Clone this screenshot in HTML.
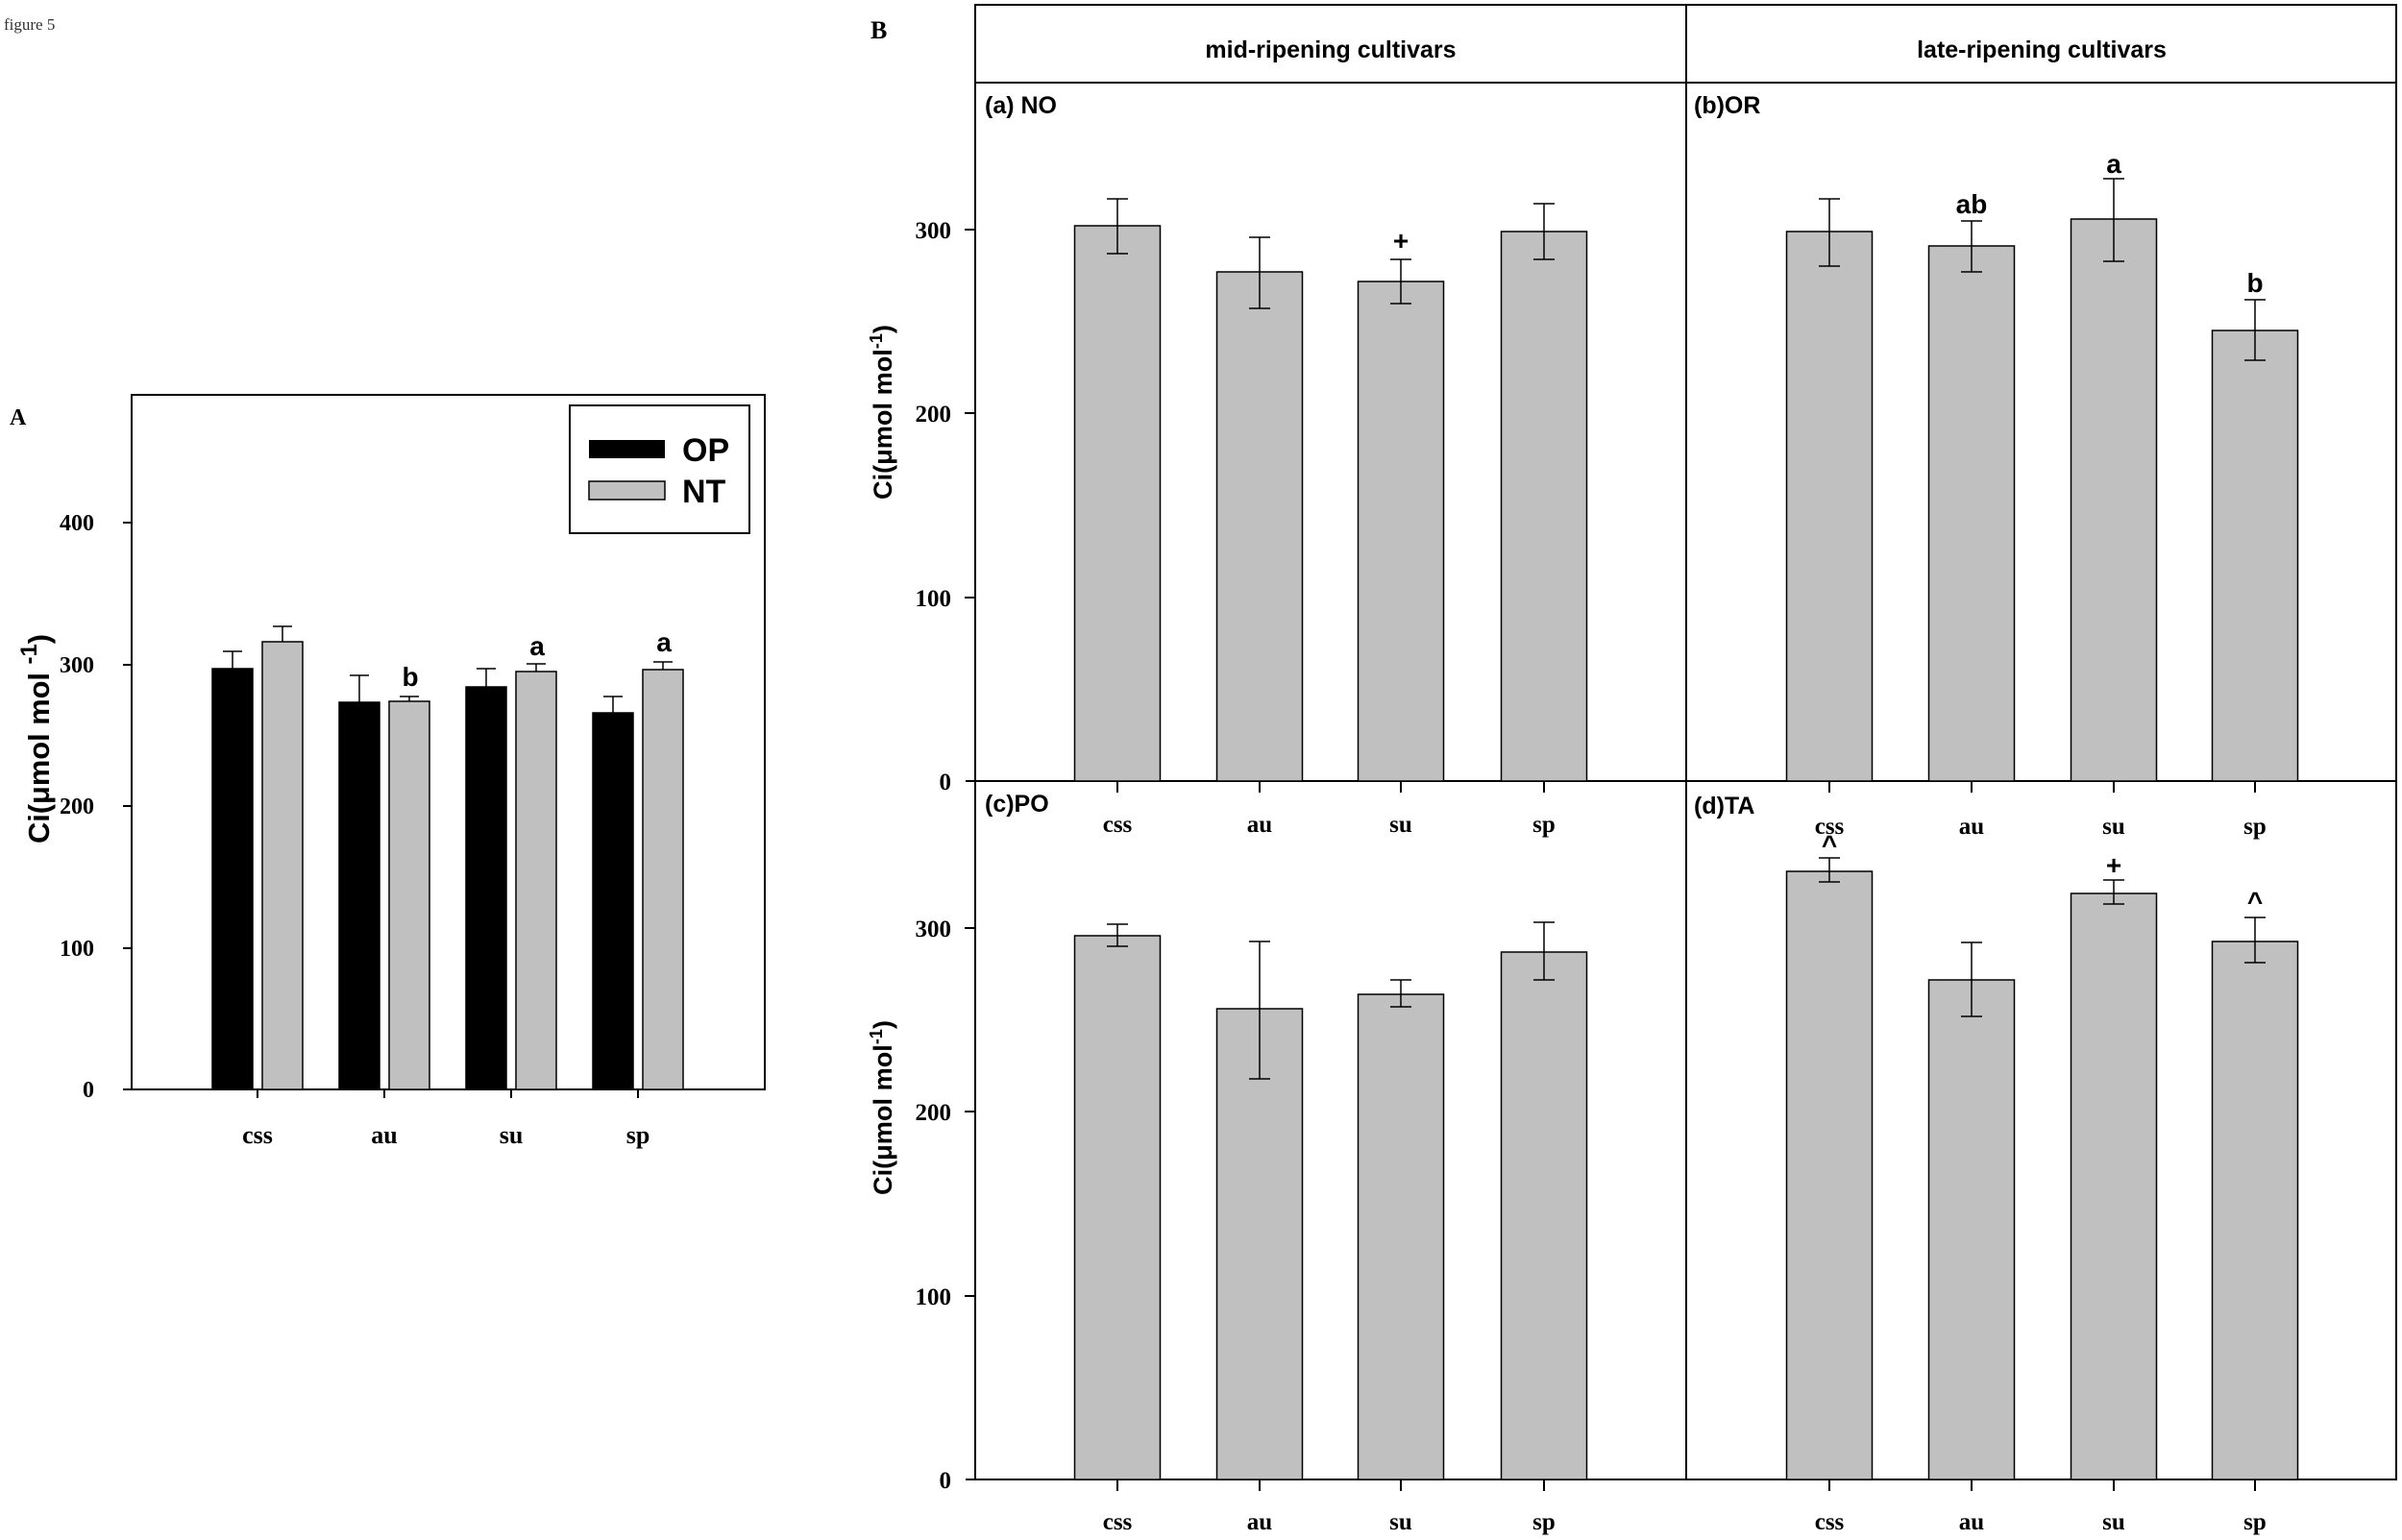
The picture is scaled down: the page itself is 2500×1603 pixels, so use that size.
<!DOCTYPE html>
<html><head><meta charset="utf-8"><style>html,body{margin:0;padding:0;background:#fff}svg{display:block}</style></head>
<body>
<svg width="2500" height="1603" viewBox="0 0 2500 1603" xmlns="http://www.w3.org/2000/svg">
<text x="4" y="31" font-family="Liberation Serif, serif" font-size="17" fill="#333">figure 5</text>

<!-- Panel A -->
<text x="10" y="442" font-family="Liberation Serif, serif" font-weight="bold" font-size="24">A</text>
<g stroke="#000" stroke-width="2" fill="none">
<rect x="137" y="411" width="659" height="723"/>
<line x1="128" y1="1134" x2="796" y2="1134"/>
<line x1="128" y1="544" x2="137" y2="544"/><line x1="128" y1="692" x2="137" y2="692"/>
<line x1="128" y1="839" x2="137" y2="839"/><line x1="128" y1="987" x2="137" y2="987"/>
<line x1="268" y1="1134" x2="268" y2="1143"/><line x1="400" y1="1134" x2="400" y2="1143"/>
<line x1="532" y1="1134" x2="532" y2="1143"/><line x1="664" y1="1134" x2="664" y2="1143"/>
</g>
<g font-family="Liberation Serif, serif" font-weight="bold" font-size="24" text-anchor="end">
<text x="98" y="552">400</text><text x="98" y="700">300</text><text x="98" y="847">200</text><text x="98" y="995">100</text><text x="98" y="1142">0</text>
</g>
<g font-family="Liberation Serif, serif" font-weight="bold" font-size="26" text-anchor="middle">
<text x="268" y="1190">css</text><text x="400" y="1190">au</text><text x="532" y="1190">su</text><text x="664" y="1190">sp</text>
</g>
<text transform="translate(51,878) rotate(-90)" font-family="Liberation Sans, sans-serif" font-weight="bold" font-size="31" textLength="218" lengthAdjust="spacingAndGlyphs">Ci(μmol mol <tspan dy="-13" font-size="24">-1</tspan><tspan dy="13">)</tspan></text>
<g stroke="#000" stroke-width="1.5">
<rect x="221" y="696" width="42" height="438" fill="#000"/>
<rect x="273" y="668" width="42" height="466" fill="#c0c0c0"/>
<rect x="353" y="731" width="42" height="403" fill="#000"/>
<rect x="405" y="730" width="42" height="404" fill="#c0c0c0"/>
<rect x="485" y="715" width="42" height="419" fill="#000"/>
<rect x="537" y="699" width="42" height="435" fill="#c0c0c0"/>
<rect x="617" y="742" width="42" height="392" fill="#000"/>
<rect x="669" y="697" width="42" height="437" fill="#c0c0c0"/>
<path d="M242 696V678M232 678H252 M294 668V652M284 652H304 M374 731V703M364 703H384 M426 730V725M416 725H436 M506 715V696M496 696H516 M558 699V691M548 691H568 M638 742V725M628 725H648 M690 697V689M680 689H700" fill="none"/>
</g>
<g font-family="Liberation Sans, sans-serif" font-weight="bold" font-size="28" text-anchor="middle">
<text x="427" y="714">b</text><text x="559" y="682">a</text><text x="691" y="678">a</text>
</g>
<rect x="593" y="422" width="187" height="133" fill="#fff" stroke="#000" stroke-width="2"/>
<rect x="613" y="458" width="79" height="19" fill="#000"/>
<rect x="613" y="501" width="79" height="19" fill="#c0c0c0" stroke="#000" stroke-width="1.5"/>
<g font-family="Liberation Sans, sans-serif" font-weight="bold" font-size="34">
<text x="710" y="480">OP</text><text x="710" y="523">NT</text>
</g>

<!-- Panel B -->
<text x="906" y="40" font-family="Liberation Serif, serif" font-weight="bold" font-size="26">B</text>
<g stroke="#000" stroke-width="2" fill="none">
<rect x="1015" y="5" width="1479" height="1535"/>
<line x1="1015" y1="86" x2="2494" y2="86"/>
<line x1="1755" y1="5" x2="1755" y2="1540"/>
<line x1="1005" y1="813" x2="2494" y2="813"/>
<line x1="1005" y1="1540" x2="2494" y2="1540"/>
<line x1="1004" y1="239" x2="1015" y2="239"/><line x1="1004" y1="430" x2="1015" y2="430"/><line x1="1004" y1="622" x2="1015" y2="622"/>
<line x1="1004" y1="966" x2="1015" y2="966"/><line x1="1004" y1="1157" x2="1015" y2="1157"/><line x1="1004" y1="1349" x2="1015" y2="1349"/>
<path d="M1163 813v12M1311 813v12M1458 813v12M1607 813v12M1904 813v12M2052 813v12M2200 813v12M2347 813v12"/>
<path d="M1163 1540v12M1311 1540v12M1458 1540v12M1607 1540v12M1904 1540v12M2052 1540v12M2200 1540v12M2347 1540v12"/>
</g>
<g font-family="Liberation Sans, sans-serif" font-weight="bold" font-size="25" text-anchor="middle">
<text x="1385" y="60">mid-ripening cultivars</text><text x="2125" y="60">late-ripening cultivars</text>
</g>
<g font-family="Liberation Sans, sans-serif" font-weight="bold" font-size="25">
<text x="1025" y="118">(a) NO</text><text x="1763" y="118">(b)OR</text>
<text x="1025" y="845">(c)PO</text><text x="1763" y="847">(d)TA</text>
</g>
<g font-family="Liberation Serif, serif" font-weight="bold" font-size="25" text-anchor="end">
<text x="990" y="248">300</text><text x="990" y="439">200</text><text x="990" y="631">100</text><text x="990" y="822">0</text>
<text x="990" y="975">300</text><text x="990" y="1166">200</text><text x="990" y="1358">100</text><text x="990" y="1549">0</text>
</g>
<g font-family="Liberation Serif, serif" font-weight="bold" font-size="25" text-anchor="middle">
<text x="1163" y="866">css</text><text x="1311" y="866">au</text><text x="1458" y="866">su</text><text x="1607" y="866">sp</text>
<text x="1904" y="868">css</text><text x="2052" y="868">au</text><text x="2200" y="868">su</text><text x="2347" y="868">sp</text>
<text x="1163" y="1592">css</text><text x="1311" y="1592">au</text><text x="1458" y="1592">su</text><text x="1607" y="1592">sp</text>
<text x="1904" y="1592">css</text><text x="2052" y="1592">au</text><text x="2200" y="1592">su</text><text x="2347" y="1592">sp</text>
</g>
<text transform="translate(928,520) rotate(-90)" font-family="Liberation Sans, sans-serif" font-weight="bold" font-size="27" textLength="182" lengthAdjust="spacingAndGlyphs">Ci(μmol mol<tspan dy="-10" font-size="18">-1</tspan><tspan dy="10">)</tspan></text>
<text transform="translate(928,1244) rotate(-90)" font-family="Liberation Sans, sans-serif" font-weight="bold" font-size="27" textLength="182" lengthAdjust="spacingAndGlyphs">Ci(μmol mol<tspan dy="-10" font-size="18">-1</tspan><tspan dy="10">)</tspan></text>
<g fill="#c0c0c0" stroke="#000" stroke-width="1.5">
<rect x="1118.5" y="235" width="89" height="578"/>
<rect x="1266.5" y="283" width="89" height="530"/>
<rect x="1413.5" y="293" width="89" height="520"/>
<rect x="1562.5" y="241" width="89" height="572"/>
<rect x="1859.5" y="241" width="89" height="572"/>
<rect x="2007.5" y="256" width="89" height="557"/>
<rect x="2155.5" y="228" width="89" height="585"/>
<rect x="2302.5" y="344" width="89" height="469"/>
<rect x="1118.5" y="974" width="89" height="566"/>
<rect x="1266.5" y="1050" width="89" height="490"/>
<rect x="1413.5" y="1035" width="89" height="505"/>
<rect x="1562.5" y="991" width="89" height="549"/>
<rect x="1859.5" y="907" width="89" height="633"/>
<rect x="2007.5" y="1020" width="89" height="520"/>
<rect x="2155.5" y="930" width="89" height="610"/>
<rect x="2302.5" y="980" width="89" height="560"/>
</g>
<g stroke="#000" stroke-width="1.5" fill="none">
<path d="M1163 207V264M1152 207h22M1152 264h22"/>
<path d="M1311 247V321M1300 247h22M1300 321h22"/>
<path d="M1458 270V316M1447 270h22M1447 316h22"/>
<path d="M1607 212V270M1596 212h22M1596 270h22"/>
<path d="M1904 207V277M1893 207h22M1893 277h22"/>
<path d="M2052 230V283M2041 230h22M2041 283h22"/>
<path d="M2200 186V272M2189 186h22M2189 272h22"/>
<path d="M2347 312V375M2336 312h22M2336 375h22"/>
<path d="M1163 962V985M1152 962h22M1152 985h22"/>
<path d="M1311 980V1123M1300 980h22M1300 1123h22"/>
<path d="M1458 1020V1048M1447 1020h22M1447 1048h22"/>
<path d="M1607 960V1020M1596 960h22M1596 1020h22"/>
<path d="M1904 893V918M1893 893h22M1893 918h22"/>
<path d="M2052 981V1058M2041 981h22M2041 1058h22"/>
<path d="M2200 916V941M2189 916h22M2189 941h22"/>
<path d="M2347 955V1002M2336 955h22M2336 1002h22"/>
</g>
<g font-family="Liberation Sans, sans-serif" font-weight="bold" font-size="28" text-anchor="middle">
<text x="1458" y="260">+</text>
<text x="2052" y="222">ab</text><text x="2200" y="180">a</text><text x="2347" y="304">b</text>
<text x="1904" y="889">^</text><text x="2200" y="910">+</text><text x="2347" y="948">^</text>
</g>
</svg>
</body></html>
